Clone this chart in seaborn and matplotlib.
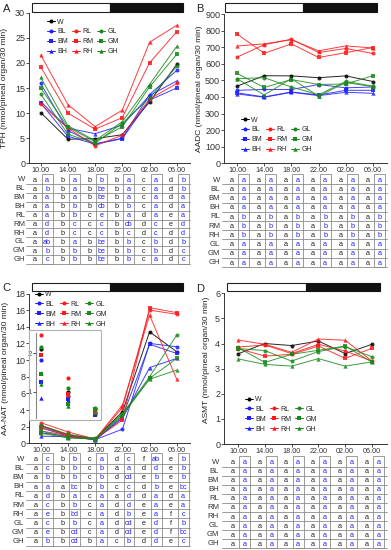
import numpy as np
import pandas as pd
import matplotlib
matplotlib.use('Agg')
import matplotlib.pyplot as plt
import seaborn as sns
from matplotlib.patches import Rectangle
from matplotlib.lines import Line2D

sns.set_style('white')
plt.rcParams['font.family'] = ['Liberation Sans', 'DejaVu Sans']

# ---------------- data ----------------
times = ['10.00', '14.00', '18.00', '22.00', '02.00', '06.00']
groups = ['W', 'BL', 'BM', 'BH', 'RL', 'RM', 'RH', 'GL', 'GM', 'GH']

tph = {
    'W':  [10.1, 4.8, 4.9, 5.7, 12.2, 19.7],
    'BL': [15.9, 6.5, 3.9, 5.0, 13.7, 18.5],
    'BM': [12.0, 5.4, 3.8, 4.9, 12.6, 15.0],
    'BH': [12.3, 7.0, 5.9, 7.6, 13.5, 16.4],
    'RL': [11.8, 7.0, 3.5, 5.6, 12.8, 15.9],
    'RM': [19.2, 10.0, 6.8, 9.1, 20.0, 26.2],
    'RH': [21.6, 11.7, 7.3, 10.6, 24.1, 27.5],
    'GL': [13.8, 5.8, 4.0, 8.0, 13.0, 19.3],
    'GM': [15.0, 7.2, 4.3, 7.3, 15.2, 21.7],
    'GH': [17.1, 7.5, 4.5, 8.3, 15.7, 23.3],
}
aadc = {
    'W':  [465, 528, 527, 516, 527, 493],
    'BL': [440, 445, 445, 475, 455, 460],
    'BM': [425, 400, 430, 412, 440, 440],
    'BH': [418, 398, 428, 408, 428, 422],
    'RL': [640, 715, 748, 668, 692, 662],
    'RM': [780, 663, 720, 638, 667, 698],
    'RH': [707, 720, 745, 678, 708, 695],
    'GL': [510, 516, 460, 413, 494, 465],
    'GM': [542, 457, 505, 475, 478, 528],
    'GH': [510, 412, 510, 405, 487, 462],
}
aanat = {
    'W':  [2.09, 1.00, 0.57, 3.8, 13.4, 11.0],
    'BL': [1.83, 0.89, 0.45, 1.7, 12.0, 11.6],
    'BM': [1.26, 0.83, 0.42, 3.2, 11.9, 10.8],
    'BH': [0.85, 0.80, 0.45, 3.0, 9.1, 10.2],
    'RL': [2.46, 1.35, 0.50, 4.3, 16.0, 15.5],
    'RM': [1.96, 0.94, 0.50, 2.8, 16.3, 15.7],
    'RH': [1.48, 0.92, 0.50, 4.6, 15.4, 7.7],
    'GL': [2.15, 1.09, 0.58, 3.5, 8.0, 13.0],
    'GM': [1.46, 0.68, 0.57, 3.3, 7.8, 10.2],
    'GH': [1.20, 0.65, 0.50, 3.6, 7.7, 8.8],
}
asmt = {
    'W':  [3.59, 4.00, 3.92, 4.10, 3.60, 3.97],
    'BL': None, 'BM': None, 'BH': None,
    'RL': [3.86, 3.94, 3.60, 3.97, 3.70, 3.30],
    'RM': [3.80, 3.50, 3.57, 3.90, 3.41, 3.81],
    'RH': [4.14, 3.97, 3.65, 4.18, 4.13, 3.30],
    'GL': [3.80, 3.72, 3.30, 3.68, 3.88, 3.47],
    'GM': [3.84, 3.25, 3.57, 3.73, 3.90, 3.26],
    'GH': [3.39, 3.17, 3.10, 3.40, 3.10, 3.27],
}

# significance letters: per row, pairs (black, blue) for each time point
letters_A = [
    'a a b a b b b a c a d b',
    'a b b a b be b a c a d b',
    'a a b a b be b a c a d a',
    'a a b b b cb b b c a d a',
    'a a b b c e b a d a e a',
    'a d b c c c b cb d c e d',
    'a d b c c c b c d c d d',
    'a ab b a b be b b c b d b',
    'a b b b b be b b c b d c',
    'a c b b b be b b c a d c',
]
letters_B = [
    'a a a a a a a a a a a a',
    'a a a a a a a a a a a a',
    'a a a a a a a a a a a a',
    'a a a a a a a a a a a a',
    'a b a b a b a b a b a b',
    'a b a b a b a b a b a b',
    'a b a b a b a b a b a b',
    'a a a a a a a a a a a a',
    'a a a a a a a a a a a a',
    'a a a a a a a a a a a a',
]
letters_C = [
    'a c b b c a d c f ab e b',
    'a c b b c b a a d d e b',
    'a b b b c b d cd e b e b',
    'a a a bc b b c c d b e bc',
    'a d b a c a a d d a d a',
    'a c b b c a d d e a e a',
    'a e b bd c a d b e a f c',
    'a c b b c a d cd e d f b',
    'a e b cd c a d cd e d f bc',
    'a b b cd b a c b d d e c',
]
letters_D = ['a a a a a a a a a a a a'] * 10

# ---------------- styling ----------------
W_PX, H_PX = 391, 550
fig = plt.figure(figsize=(3.91, 5.5), dpi=100)

BLUE, RED, GREEN = '#1f1fff', '#ff1a1a', '#1a8a1a'
colors = {'W': 'black', 'BL': BLUE, 'BM': BLUE, 'BH': BLUE,
          'RL': RED, 'RM': RED, 'RH': RED, 'GL': GREEN, 'GM': GREEN, 'GH': GREEN}
markers = {'W': 'o', 'BL': 'o', 'BM': 's', 'BH': '^', 'RL': 'o', 'RM': 's', 'RH': '^',
           'GL': 'o', 'GM': 's', 'GH': '^'}
msize = {'o': 2.9, 's': 2.9, '^': 3.1}
GRID = '#8c8c8c'


def add_axes_px(l, t, r, b):
    return fig.add_axes([l / W_PX, 1 - b / H_PX, (r - l) / W_PX, (b - t) / H_PX])


panels = [
    dict(letter='A', data=tph, letters=letters_A, l=29.3, r=190, t=12.7, b=163.3, x0=40.7, dx=27.2,
         ylim=(0, 30), yt=list(range(0, 31, 5)), ylabel='TPH (nmol/pineal organ/30 min)', ylab_x=8.5, ylab_y=0.5,
         bar=(32, 110, 183, 3.3, 11.7), tab=dict(top=174, c0=180, pitch=8.85, lab_r=25, line_l=26),
         leg=(47, 18.5), lpos=(7, 9)),
    dict(letter='B', data=aadc, letters=letters_B, l=224.3, r=386.7, t=14, b=163.3, x0=237, dx=27.2,
         ylim=(0, 900), yt=list(range(0, 901, 100)), ylabel='AADC (nmol/pineal organ/30 min)', ylab_x=203, ylab_y=0.5,
         bar=(225, 302.7, 376.7, 3.3, 11.7), tab=dict(top=174.3, c0=180, pitch=9.2, lab_r=220, line_l=221.7),
         leg=(241, 116.5), lpos=(200, 9)),
    dict(letter='C', data=aanat, letters=letters_C, l=29.3, r=190, t=293.5, b=443.3, x0=41.2, dx=27.1,
         ylim=(0, 18), yt=list(range(0, 19, 2)), ylabel='AA-NAT (nmol/pineal organ/30 min)', ylab_x=9.5, ylab_y=0.5,
         bar=(31.7, 110, 183.3, 283.3, 290.7), tab=dict(top=453.3, c0=459.3, pitch=9.15, lab_r=24, line_l=26),
         leg=(35, 291), lpos=(6, 288)),
    dict(letter='D', data=asmt, letters=letters_D, l=224.3, r=386.7, t=293.3, b=444, x0=238, dx=26.8,
         ylim=(0, 6), yt=list(range(0, 7)), ylabel='ASMT (nmol/pineal organ/30 min)', ylab_x=210.5, ylab_y=0.56,
         bar=(227.3, 305.7, 380, 283.3, 291), tab=dict(top=456, c0=462.3, pitch=9.07, lab_r=219, line_l=221.7),
         leg=(245, 396), lpos=(200, 289)),
]

for p in panels:
    ax = add_axes_px(p['l'], p['t'], p['r'], p['b'])
    xlo = (p['l'] - p['x0']) / p['dx']
    xhi = (p['r'] - p['x0']) / p['dx']
    for g in groups:
        vals = p['data'][g]
        if vals is None:
            continue
        df = pd.DataFrame({'t': np.arange(len(times)), 'v': vals})
        m = markers[g]
        sns.lineplot(data=df, x='t', y='v', ax=ax, color=colors[g], lw=0.7, alpha=0.85,
                     marker=m, markersize=msize[m], markeredgewidth=0,
                     markeredgecolor=colors[g], legend=False)
    ax.set_xlim(xlo, xhi)
    ax.set_ylim(*p['ylim'])
    ax.set_xticks(range(len(times)))
    ax.set_xticklabels(times)
    ax.set_yticks(p['yt'])
    ax.set_xlabel('')
    ax.set_ylabel(p['ylabel'], fontsize=6, color='#222222')
    ax.yaxis.set_label_coords((p['ylab_x'] - p['l']) / (p['r'] - p['l']), p['ylab_y'])
    sns.despine(ax=ax)
    for s in ('left', 'bottom'):
        ax.spines[s].set_linewidth(0.7)
        ax.spines[s].set_color('#333333')
    ax.tick_params(axis='both', bottom=True, left=True, length=2, width=0.6, pad=1, colors='#333333')
    ax.tick_params(axis='x', labelsize=5.2, pad=0.8)
    ax.tick_params(axis='y', labelsize=6.5)
    ax.set_facecolor('none')

    # light/dark bar
    x1, xs, x2, y1, y2 = p['bar']
    fig.patches.append(Rectangle((x1 / W_PX, 1 - y2 / H_PX), (xs - x1) / W_PX, (y2 - y1) / H_PX,
                                 transform=fig.transFigure, fc='white', ec='#222222', lw=0.8))
    fig.patches.append(Rectangle((xs / W_PX, 1 - y2 / H_PX), (x2 - xs) / W_PX, (y2 - y1) / H_PX,
                                 transform=fig.transFigure, fc='#111111', ec='#111111', lw=0.8))

    # panel letter
    fig.text(p['lpos'][0] / W_PX, 1 - p['lpos'][1] / H_PX, p['letter'], fontsize=8,
             ha='center', va='center', color='#222222')

    # legend
    handles = []
    for g in ['W', 'BL', 'BM', 'BH', None, 'RL', 'RM', 'RH', None, 'GL', 'GM', 'GH']:
        if g is None:
            handles.append(Line2D([], [], alpha=0, label=' '))
        else:
            m = markers[g]
            handles.append(Line2D([], [], color=colors[g], marker=m, markersize=msize[m],
                                  markeredgewidth=0, lw=0.7, label=g))
    ax.legend(handles=handles, ncol=3, fontsize=5.0, frameon=False, loc='upper left',
              bbox_to_anchor=(p['leg'][0] / W_PX, 1 - p['leg'][1] / H_PX), bbox_transform=fig.transFigure,
              borderpad=0, borderaxespad=0, handlelength=1.15, handletextpad=0.3,
              columnspacing=0.6, labelspacing=0.42)

    # table
    tb = p['tab']
    bottom_line = tb['c0'] + 4.2 + 9 * tb['pitch']
    axt = add_axes_px(p['l'], tb['top'], p['r'], bottom_line + 0.5)
    axt.set_xlim(xlo, xhi)
    H = bottom_line + 0.5 - tb['top']
    axt.set_ylim(H, 0)
    axt.axis('off')
    to_x = lambda px: (px - p['x0']) / p['dx']
    for i, (g, row) in enumerate(zip(groups, p['letters'])):
        yc = tb['c0'] - tb['top'] + i * tb['pitch']
        yl = yc + 4.2
        axt.text(to_x(tb['lab_r']), yc, g, ha='right', va='center', fontsize=5.6, color='#333333', clip_on=False)
        axt.plot([to_x(tb['line_l']), xhi], [yl, yl], color=GRID, lw=0.6, clip_on=False)
        toks = row.split()
        for j in range(len(times)):
            b_let, u_let = toks[2 * j], toks[2 * j + 1]
            axt.text(to_x(p['x0'] + p['dx'] * j - 5.5), yc + 0.3, b_let, ha='center', va='center',
                     fontsize=5.2, color='#222222')
            axt.text(to_x(p['x0'] + p['dx'] * j + 6.5), yc + 0.3, u_let, ha='center', va='center',
                     fontsize=5.2, color=BLUE)
    for j in range(len(times)):
        bx0 = to_x(p['x0'] + p['dx'] * j + 1)
        bx1 = to_x(p['x0'] + p['dx'] * j + 12)
        axt.add_patch(Rectangle((bx0, 0), bx1 - bx0, bottom_line - tb['top'], fill=False,
                                ec=GRID, lw=0.6, clip_on=False))

    # inset for panel C
    if p['letter'] == 'C':
        il, it, ir, ib = 29.3, 330, 101, 420
        axi = add_axes_px(il, it, ir, ib)
        axi.set_facecolor('white')
        axi.set_xlim((il - p['x0']) / p['dx'], (ir - p['x0']) / p['dx'])
        axi.set_ylim(1 - (ib - 392) / 39.0, 2 + (353 - it) / 39.0)
        for g in groups:
            vals = p['data'][g][:3]
            sns.scatterplot(x=np.arange(3), y=vals, ax=axi, color=colors[g], marker=markers[g],
                            s=9 if markers[g] != '^' else 10, linewidth=0, legend=False, zorder=3)
        for s in ('top', 'right', 'bottom'):
            axi.spines[s].set_visible(False)
        axi.spines['left'].set_position(('data', (36 - p['x0']) / p['dx']))
        axi.spines['left'].set_bounds(0.33, 2.51)
        axi.spines['left'].set_color('#888888')
        axi.spines['left'].set_linewidth(0.8)
        axi.add_patch(Rectangle((0, 0), 1, 1, transform=axi.transAxes, fill=False, ec='#b0b0b0',
                                lw=0.8, clip_on=False))
        axi.set_xticks([])
        axi.set_yticks([1, 2])
        axi.tick_params(axis='y', left=True, length=2, width=0.6, pad=1, labelsize=5.5,
                        colors='#333333')

fig.savefig('out.png', dpi=100)
